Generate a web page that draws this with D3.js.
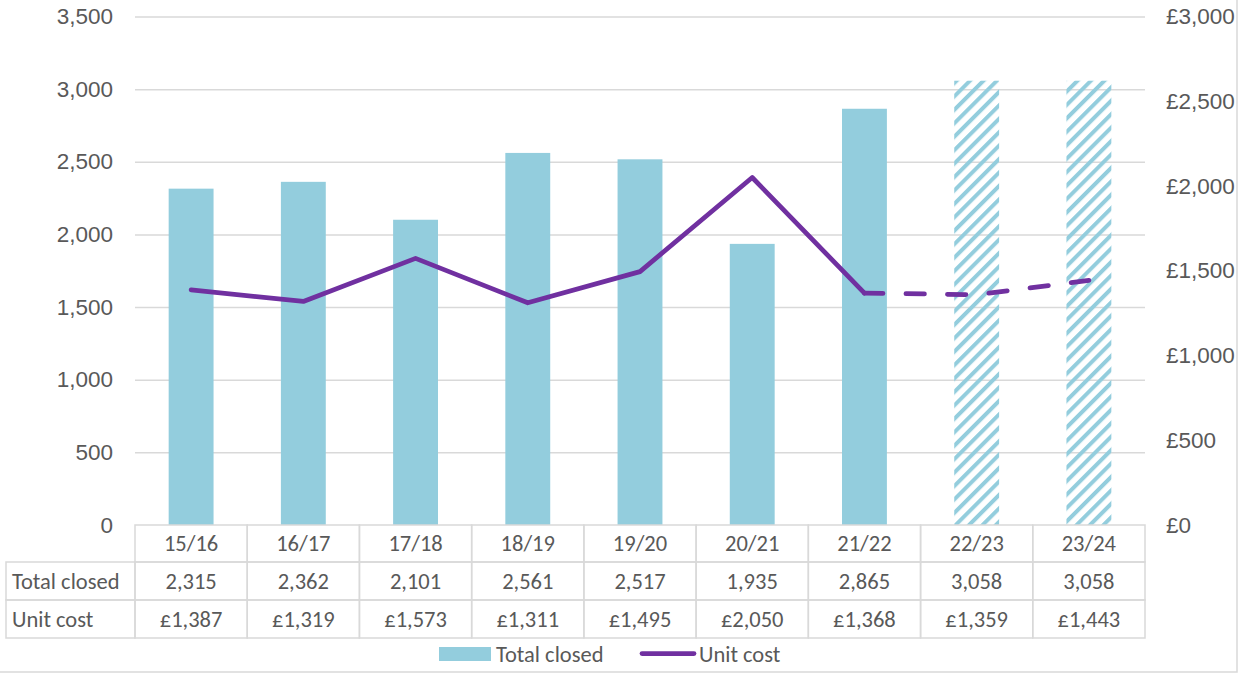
<!DOCTYPE html>
<html>
<head>
<meta charset="utf-8">
<script src="https://cdn.jsdelivr.net/npm/d3@7/dist/d3.min.js"></script>
<style>
  body { margin: 0; background: #fff; }
  svg { display: block; font-family: Carlito, Calibri, Lato, "Open Sans", sans-serif; }
</style>
</head>
<body>
<svg id="chart" width="1251" height="675"></svg>
<script>
// data
var years = ["15/16", "16/17", "17/18", "18/19", "19/20", "20/21", "21/22", "22/23", "23/24"];
var totalClosed = [2315, 2362, 2101, 2561, 2517, 1935, 2865, 3058, 3058];
var unitCost = [1387, 1319, 1573, 1311, 1495, 2050, 1368, 1359, 1443];
var forecast = [false, false, false, false, false, false, false, true, true];
var leftTicks = [0, 500, 1000, 1500, 2000, 2500, 3000, 3500];
var rightTicks = [0, 500, 1000, 1500, 2000, 2500, 3000];

var barColor = "#93cddd",
    lineColor = "#7030a0",
    textColor = "#595959",
    gridColor = "#d9d9d9",
    fontSize = "22.5px";

var svg = d3.select("#chart");

var plotLeft = 135, plotRight = 1145, plotTop = 16.5, plotBottom = 525;

var x = d3.scaleBand().domain(years).range([plotLeft, plotRight]).padding(0);
var yL = d3.scaleLinear().domain([0, 3500]).range([plotBottom, plotTop]);
var yR = d3.scaleLinear().domain([0, 3000]).range([plotBottom, plotTop]);

var fmt = d3.format(",");

// hatch pattern for forecast bars
var defs = svg.append("defs");
defs.append("pattern")
    .attr("id", "hatch")
    .attr("patternUnits", "userSpaceOnUse")
    .attr("width", 9.5)
    .attr("height", 9.5)
    .attr("patternTransform", "rotate(45)")
    .append("line")
    .attr("x1", 2).attr("y1", 0)
    .attr("x2", 2).attr("y2", 9.5)
    .attr("stroke", barColor)
    .attr("stroke-width", 4);

// outer chart border
svg.append("rect")
    .attr("x", -2).attr("y", -40)
    .attr("width", 1239).attr("height", 712)
    .attr("fill", "none")
    .attr("stroke", gridColor)
    .attr("stroke-width", 1.5);

// gridlines
svg.append("g")
    .attr("transform", "translate(" + plotLeft + ",0)")
    .call(d3.axisLeft(yL).tickValues(leftTicks.slice(1)).tickSize(-(plotRight - plotLeft)).tickFormat(""))
    .call(function(g) { g.select(".domain").remove(); })
    .selectAll("line")
    .attr("stroke", gridColor)
    .attr("stroke-width", 1.5);

// left axis
svg.append("g")
    .attr("class", "axis-left")
    .attr("transform", "translate(" + plotLeft + ",0)")
    .call(d3.axisLeft(yL).tickValues(leftTicks).tickSize(0).tickPadding(22).tickFormat(fmt))
    .call(function(g) { g.select(".domain").remove(); });

// right axis
svg.append("g")
    .attr("class", "axis-right")
    .attr("transform", "translate(" + plotRight + ",0)")
    .call(d3.axisRight(yR).tickValues(rightTicks).tickSize(0).tickPadding(21)
        .tickFormat(function(d) { return "£" + fmt(d); }))
    .call(function(g) { g.select(".domain").remove(); });

svg.selectAll(".axis-left text, .axis-right text")
    .attr("fill", textColor)
    .style("font-size", fontSize)
    .style("font-family", null);

// bars
var barW = x.bandwidth() * 0.4;
svg.append("g").selectAll("rect")
    .data(years)
    .enter()
    .append("rect")
    .attr("x", function(d) { return x(d) + (x.bandwidth() - barW) / 2; })
    .attr("width", barW)
    .attr("y", function(d, i) { return yL(totalClosed[i]); })
    .attr("height", function(d, i) { return yL(0) - yL(totalClosed[i]); })
    .attr("fill", function(d, i) { return forecast[i] ? "url(#hatch)" : barColor; });

// unit cost line: solid for actuals, dashed from last actual onwards
var pts = years.map(function(d, i) {
    return { x: x(d) + x.bandwidth() / 2, y: yR(unitCost[i]), f: forecast[i] };
});
var lastActual = forecast.indexOf(true) - 1;
var line = d3.line().x(function(d) { return d.x; }).y(function(d) { return d.y; });

svg.append("path")
    .datum(pts.slice(0, lastActual + 1))
    .attr("d", line)
    .attr("fill", "none")
    .attr("stroke", lineColor)
    .attr("stroke-width", 4.75)
    .attr("stroke-linejoin", "round")
    .attr("stroke-linecap", "round");

svg.append("path")
    .datum(pts.slice(lastActual))
    .attr("d", line)
    .attr("fill", "none")
    .attr("stroke", lineColor)
    .attr("stroke-width", 4.75)
    .attr("stroke-linecap", "round")
    .attr("stroke-dasharray", "18.5 23");

// data table
var tableLeft = 6, rowTops = [525, 562, 600, 638];
var table = svg.append("g").attr("class", "table");

// header cells
table.selectAll(".hcell")
    .data(years)
    .enter()
    .append("rect")
    .attr("class", "hcell")
    .attr("x", function(d) { return x(d); })
    .attr("y", rowTops[0])
    .attr("width", x.bandwidth())
    .attr("height", rowTops[1] - rowTops[0]);

var rows = [
    { label: "Total closed", values: totalClosed.map(fmt) },
    { label: "Unit cost", values: unitCost.map(function(v) { return "£" + fmt(v); }) }
];

rows.forEach(function(r, ri) {
    var top = rowTops[ri + 1], h = rowTops[ri + 2] - top;
    table.append("rect")
        .attr("x", tableLeft).attr("y", top)
        .attr("width", plotLeft - tableLeft).attr("height", h);
    table.selectAll(".cell" + ri)
        .data(years)
        .enter()
        .append("rect")
        .attr("x", function(d) { return x(d); })
        .attr("y", top)
        .attr("width", x.bandwidth())
        .attr("height", h);
    table.append("text")
        .attr("x", tableLeft + 6)
        .attr("y", top + h / 2)
        .attr("dy", "0.35em")
        .text(r.label);
    table.selectAll(".val" + ri)
        .data(r.values)
        .enter()
        .append("text")
        .attr("x", function(d, i) { return x(years[i]) + x.bandwidth() / 2; })
        .attr("y", top + h / 2)
        .attr("dy", "0.35em")
        .attr("text-anchor", "middle")
        .text(function(d) { return d; });
});

table.selectAll(".hlabel")
    .data(years)
    .enter()
    .append("text")
    .attr("x", function(d) { return x(d) + x.bandwidth() / 2; })
    .attr("y", (rowTops[0] + rowTops[1]) / 2)
    .attr("dy", "0.35em")
    .attr("text-anchor", "middle")
    .text(function(d) { return d; });

table.selectAll("rect")
    .attr("fill", "none")
    .attr("stroke", gridColor)
    .attr("stroke-width", 1.5);
table.selectAll("text")
    .attr("fill", textColor)
    .style("font-size", fontSize);

// legend
var legend = svg.append("g").attr("class", "legend");
legend.append("rect")
    .attr("x", 439).attr("y", 647)
    .attr("width", 52).attr("height", 14)
    .attr("fill", barColor);
legend.append("text")
    .attr("x", 496).attr("y", 654)
    .attr("dy", "0.35em")
    .text("Total closed");
legend.append("line")
    .attr("x1", 642).attr("x2", 694)
    .attr("y1", 653.5).attr("y2", 653.5)
    .attr("stroke", lineColor)
    .attr("stroke-width", 4.75)
    .attr("stroke-linecap", "round");
legend.append("text")
    .attr("x", 699).attr("y", 654)
    .attr("dy", "0.35em")
    .text("Unit cost");
legend.selectAll("text")
    .attr("fill", textColor)
    .style("font-size", fontSize);
</script>
</body>
</html>
